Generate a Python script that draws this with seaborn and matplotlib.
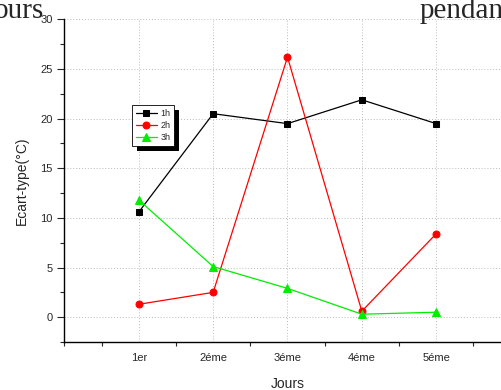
import pandas as pd
import matplotlib
matplotlib.use("Agg")
import matplotlib.pyplot as plt
import seaborn as sns
from matplotlib.patches import Rectangle
from matplotlib.transforms import IdentityTransform

jours = ["1er", "2éme", "3éme", "4éme", "5éme"]
pos = [1, 2, 3, 4, 5]
h1 = [10.6, 20.5, 19.5, 21.9, 19.5]
h2 = [1.3, 2.5, 26.2, 0.6, 8.4]
h3 = [11.8, 5.1, 2.9, 0.3, 0.5]

sns.set_style("white")
plt.rcParams['font.family'] = ['Liberation Sans', 'DejaVu Sans']

fig = plt.figure(figsize=(5.02, 3.9), dpi=100)
ax = fig.add_axes([64.5 / 502, 48 / 390, 446 / 502, 322.6 / 390])

series = [("1h", h1, "black", "s", 4.5), ("2h", h2, "red", "o", 5),
          ("3h", h3, "#00ee00", "^", 5.5)]
for name, vals, col, mk, ms in series:
    df = pd.DataFrame({"pos": pos, "val": vals})
    sns.lineplot(data=df, x="pos", y="val", ax=ax, color=col, marker=mk,
                 markersize=ms, markeredgecolor=col, linewidth=0.9, label=name)

ax.set_xlim(0, 6)
ax.set_ylim(-2.5, 30)
ax.set_xticks(pos)
ax.set_xticklabels(jours, fontsize=8)
ax.tick_params(axis="x", length=0, pad=8)
ax.set_xticks([0, 0.5, 1.5, 2.5, 3.5, 4.5, 5.5], minor=True)
ax.tick_params(axis="x", which="minor", direction="out", length=3, width=0.8, bottom=True)
ax.set_yticks([0, 5, 10, 15, 20, 25, 30])
ax.set_yticks([-2.5, 2.5, 7.5, 12.5, 17.5, 22.5, 27.5], minor=True)
ax.tick_params(axis="y", which="major", direction="out", length=5, width=0.8, labelsize=8, left=True)
ax.tick_params(axis="y", which="minor", direction="out", length=3, width=0.8, left=True)
ax.grid(True, color="#bbbbbb", linestyle=(0, (1, 2)), linewidth=0.7)
for s in ["top", "right"]:
    ax.spines[s].set_visible(False)
for s in ["left", "bottom"]:
    ax.spines[s].set_color("black")
    ax.spines[s].set_linewidth(1.0)
ax.set_xlabel("Jours", fontsize=10, labelpad=10)
ax.set_ylabel("Ecart-type(°C)", fontsize=10, labelpad=8)

leg = ax.legend(loc="upper left", bbox_to_anchor=(132 / 502, 1 - 105 / 390),
                bbox_transform=fig.transFigure, fontsize=6.5, frameon=True,
                fancybox=False, edgecolor="black", framealpha=1,
                handlelength=2.3, handletextpad=0.4, labelspacing=0.35,
                borderpad=0.45, borderaxespad=0)
leg.get_frame().set_linewidth(0.6)
leg.set_zorder(10)

fig.canvas.draw()
bb = leg.get_window_extent()
shadow = Rectangle((bb.x0 + 5, bb.y0 - 5), bb.width, bb.height,
                   facecolor="black", edgecolor="none", zorder=9, clip_on=False)
ax.add_patch(shadow)
shadow.set_transform(IdentityTransform())

fig.text(-0.012, 1.005, "ours", family="Liberation Serif", fontsize=21, va="top", ha="left")
fig.text(0.835, 1.005, "pendan", family="Liberation Serif", fontsize=21, va="top", ha="left")

fig.savefig("out.png", dpi=100)
